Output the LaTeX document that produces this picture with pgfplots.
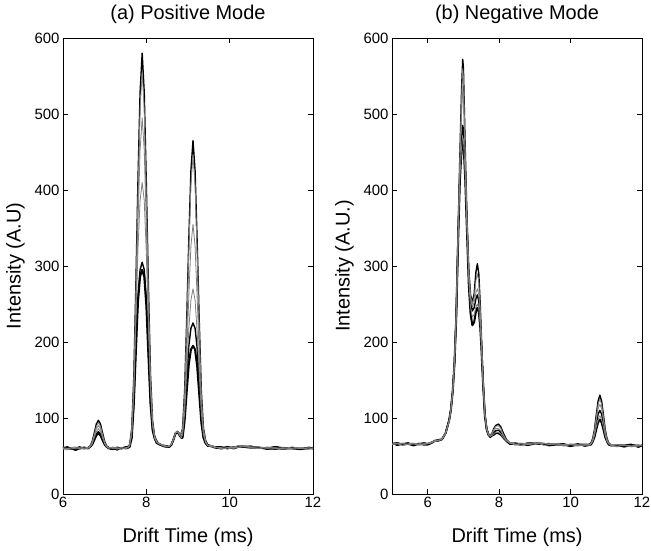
\documentclass[border=0pt]{standalone}
\usepackage{fontspec}
\setmainfont{Liberation Sans}
\usepackage{pgfplots}
\usepackage{pgfplotstable}
\pgfplotsset{compat=1.18}

\pgfplotstableread{
x a b c d e f
6.00 60 61 59 60 62 60
6.10 62 60 60 58 60 61
6.20 60 59 61 61 59 60
6.30 59 61 62 60 60 58
6.40 61 60 59 61 62 60
6.50 60 62 60 59 60 61
6.60 61 61 61 60 61 60
6.65 63 63 62 62 62 62
6.70 69 68 68 66 66 65
6.75 80 78 76 74 72 71
6.80 92 89 86 82 79 77
6.85 97 94 90 86 82 80
6.90 92 89 86 82 79 77
6.95 80 78 76 74 72 71
7.00 69 68 68 66 66 65
7.05 63 63 62 62 62 62
7.10 61 61 61 60 61 60
7.20 59 61 60 62 60 59
7.30 61 59 61 60 58 61
7.40 60 61 59 61 61 60
7.50 62 60 61 59 60 61
7.55 62 61 61 61 60 61
7.60 65 65 64 63 63 62
7.65 86 85 82 79 75 74
7.70 154 149 138 134 121 119
7.75 278 268 243 228 195 189
7.80 414 397 356 323 261 253
7.85 528 506 452 386 295 286
7.90 580 555 495 410 305 295
7.95 528 506 452 386 295 286
8.00 408 392 352 316 256 248
8.05 273 263 238 221 187 182
8.10 157 152 141 137 122 119
8.15 96 95 91 90 85 84
8.20 76 76 75 73 73 73
8.25 70 69 69 68 68 67
8.30 66 66 67 66 65 66
8.40 64 64 63 65 64 63
8.50 63 62 63 62 63 62
8.55 62 63 62 63 62 62
8.60 65 65 66 65 64 65
8.65 72 72 71 72 72 71
8.70 80 80 81 80 79 80
8.75 82 83 82 82 81 82
8.80 79 79 78 77 77 77
8.84 80 80 77 74 75 74
8.87 86 85 81 78 76 74
8.92 136 132 116 107 104 97
8.97 231 223 185 162 152 135
9.02 335 322 261 218 195 171
9.07 425 407 326 255 218 190
9.12 465 445 355 270 225 195
9.17 425 407 326 255 218 190
9.22 331 318 258 213 192 168
9.27 227 219 182 158 147 131
9.32 135 131 115 106 102 94
9.37 87 86 81 78 76 74
9.42 71 71 69 68 68 67
9.47 65 64 64 64 63 64
9.55 63 64 63 62 63 63
9.65 62 62 61 62 62 61
9.80 61 59 61 60 62 60
9.95 60 61 59 61 60 62
10.10 62 61 62 60 61 60
10.25 63 62 64 62 62 63
10.35 63 64 62 63 62 62
10.50 62 61 62 61 63 61
10.70 61 60 62 60 61 61
10.90 60 62 60 61 59 60
11.10 59 60 61 60 60 62
11.30 61 60 59 61 59 60
11.50 60 62 60 59 61 60
11.70 59 60 61 60 60 59
11.90 60 59 59 61 60 61
12.00 60 61 60 60 61 60
}\postab

\pgfplotstableread{
x a b c d e f
5.00 66 65 66 67 65 66
5.15 65 67 66 64 66 67
5.30 66 66 64 66 67 65
5.45 67 65 66 67 65 66
5.60 65 66 67 65 66 64
5.75 66 67 65 66 64 66
5.90 67 65 66 67 66 65
6.00 66 66 67 66 66 65
6.10 68 67 68 67 68 67
6.20 70 70 69 70 71 70
6.30 70 71 70 70 70 71
6.40 72 72 73 72 72 72
6.50 80 80 81 80 79 80
6.60 97 97 96 97 96 97
6.65 112 112 111 112 111 111
6.70 136 136 135 135 134 135
6.75 175 175 174 173 173 172
6.80 240 240 238 236 235 234
6.85 345 343 340 335 332 330
6.90 445 440 432 420 415 412
6.95 535 525 503 470 458 455
6.98 572 560 530 485 470 465
7.00 560 549 522 480 466 462
7.05 455 450 440 425 418 415
7.10 362 360 356 350 346 344
7.15 295 294 290 286 280 275
7.20 262 260 257 252 245 237
7.25 252 250 246 241 233 222
7.30 263 259 252 245 236 226
7.35 292 281 265 257 246 240
7.39 303 290 270 262 250 245
7.43 290 280 262 254 244 240
7.47 250 245 236 230 222 220
7.50 212 210 205 200 196 195
7.55 150 150 148 146 145 145
7.60 106 106 105 104 104 103
7.65 87 87 86 86 85 85
7.70 79 79 78 78 78 78
7.75 77 77 76 76 76 75
7.80 80 80 79 78 77 77
7.85 86 85 83 81 79 78
7.90 90 89 86 83 81 80
7.98 92 90 86 84 81 80
8.05 88 86 83 81 79 78
8.10 82 80 78 77 75 75
8.20 72 71 71 70 70 70
8.30 67 68 67 66 67 66
8.45 66 64 66 67 65 66
8.60 65 66 64 66 67 65
8.80 67 65 66 64 66 66
9.00 67 66 68 66 66 67
9.10 67 68 66 67 67 66
9.25 66 66 67 66 64 66
9.40 65 67 65 66 65 64
9.60 65 64 66 65 66 65
9.80 66 65 64 65 63 65
10.00 64 65 66 64 65 63
10.20 65 63 65 66 64 65
10.40 64 65 64 63 65 65
10.52 65 65 65 64 64 65
10.57 67 67 66 66 66 65
10.62 73 72 71 70 69 69
10.67 85 84 81 79 77 75
10.72 104 101 97 92 88 85
10.77 122 118 112 105 98 94
10.82 130 125 118 110 103 98
10.87 122 118 112 105 98 94
10.92 104 101 97 92 88 85
10.97 85 84 81 79 77 75
11.02 73 72 71 70 69 69
11.07 67 67 66 66 66 65
11.12 65 64 65 64 65 64
11.30 64 63 65 64 62 64
11.50 62 64 64 63 65 64
11.70 64 63 62 64 63 65
11.90 63 65 63 64 64 62
12.00 64 63 64 63 64 64
}\negtab

\pgfplotsset{
  myaxis/.style={
    scale only axis, width=250bp, height=456bp,
    ymin=0, ymax=600, ytick={0,100,...,600},
    xtick={6,8,10,12},
    tick align=inside, xtick pos=both, ytick pos=both,
    major tick length=5bp,
    axis line style={line width=0.8bp},
    every tick/.style={line width=0.8bp, black},
    /pgf/number format/assume math mode=true,
    tick label style={font=\fontsize{15}{18}\selectfont},
    label style={font=\fontsize{20}{24}\selectfont},
    title style={font=\fontsize{20}{24}\selectfont, at={(axis description cs:0.5,1.0395)}, anchor=center},
    xlabel style={at={(axis description cs:0.5,-0.0943)}, anchor=center},
    ylabel style={at={(axis description cs:-0.19,0.5)}, anchor=center},
    blk/.style={black, line width=1.4bp, line join=round},
    blkt/.style={black, line width=2.0bp, line join=round},
    gry/.style={black!50, line width=0.8bp, line join=round},
  }
}

\begin{document}
\begin{tikzpicture}
\useasboundingbox (-63bp,-57bp) rectangle (588bp,494bp);
\begin{axis}[myaxis, at={(0bp,0bp)}, anchor=south west,
  xmin=6, xmax=12,
  title={(a) Positive Mode}, xlabel={Drift Time (ms)}, ylabel={Intensity (A.U)}]
\addplot[blk, no marks] table[x=x, y=a] {\postab};
\addplot[blkt, no marks] table[x=x, y=f] {\postab};
\addplot[blk, no marks] table[x=x, y=e] {\postab};
\addplot[gry, no marks] table[x=x, y=b] {\postab};
\addplot[gry, no marks] table[x=x, y=c] {\postab};
\addplot[gry, no marks] table[x=x, y=d] {\postab};
\end{axis}
\begin{axis}[myaxis, at={(329bp,0bp)}, anchor=south west,
  xmin=5, xmax=12,
  title={(b) Negative Mode}, xlabel={Drift Time (ms)}, ylabel={Intensity (A.U.)}]
\addplot[blk, no marks] table[x=x, y=a] {\negtab};
\addplot[blkt, no marks] table[x=x, y=f] {\negtab};
\addplot[blk, no marks] table[x=x, y=d] {\negtab};
\addplot[gry, no marks] table[x=x, y=b] {\negtab};
\addplot[gry, no marks] table[x=x, y=c] {\negtab};
\addplot[gry, no marks] table[x=x, y=e] {\negtab};
\end{axis}
\end{tikzpicture}
\end{document}
